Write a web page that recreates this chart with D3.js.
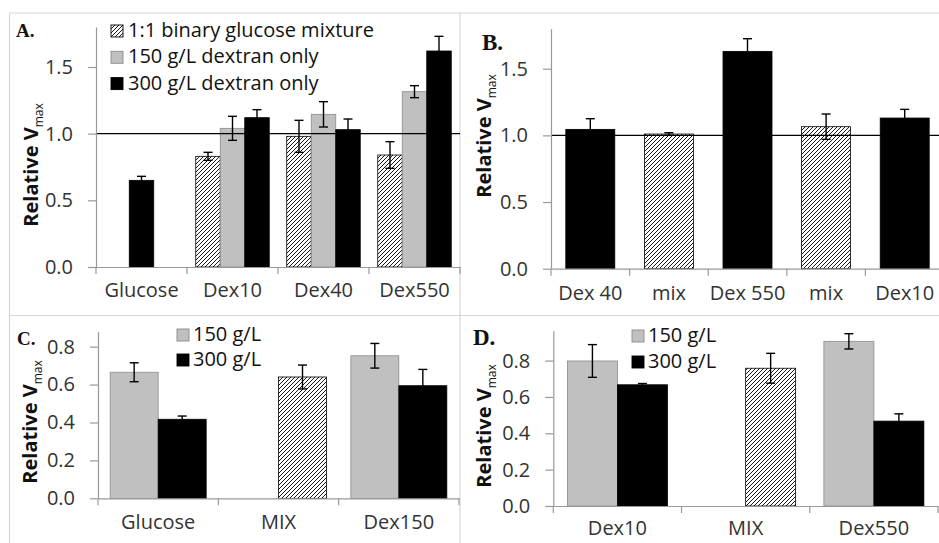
<!DOCTYPE html>
<html>
<head>
<meta charset="utf-8">
<script src="https://cdnjs.cloudflare.com/ajax/libs/d3/7.8.5/d3.min.js"></script>
<style>
  body { margin: 0; background: #fff; }
  svg text { font-family: "Open Sans", sans-serif; }
</style>
</head>
<body>
<svg id="chart" width="939" height="543"></svg>
<script>
"use strict";

// Panel A: relative Vmax by crowder, three conditions
var aCategories = ["Glucose", "Dex10", "Dex40", "Dex550"];
var aMix      = [null, 0.83, 0.98, 0.84];
var aMixErr   = [null, 0.03, 0.12, 0.10];
var a150      = [null, 1.04, 1.145, 1.315];
var a150Err   = [null, 0.09, 0.095, 0.045];
var a300      = [0.65, 1.12, 1.03, 1.62];
var a300Err   = [0.03, 0.06, 0.08, 0.11];
var aLegend   = ["1:1 binary glucose mixture", "150 g/L dextran only", "300 g/L dextran only"];

// Panel B: single series, alternating dextran / mix
var bCategories = ["Dex 40", "mix", "Dex 550", "mix", "Dex10"];
var bValues     = [1.045, 1.01, 1.63, 1.065, 1.13];
var bErr        = [0.08, 0.01, 0.095, 0.095, 0.065];
var bKinds      = ["black", "hatch", "black", "hatch", "black"];

// Panel C
var cCategories = ["Glucose", "MIX", "Dex150"];
var c150        = [0.665, null, 0.752];
var c150Err     = [0.05, null, 0.065];
var c300        = [0.417, 0.64, 0.594];
var c300Err     = [0.017, 0.063, 0.086];
var c300Kinds   = ["black", "hatch", "black"];

// Panel D
var dCategories = ["Dex10", "MIX", "Dex550"];
var d150        = [0.798, null, 0.906];
var d150Err     = [0.09, null, 0.042];
var d300        = [0.667, 0.758, 0.467];
var d300Err     = [0.007, 0.082, 0.04];
var d300Kinds   = ["black", "hatch", "black"];

var legendConc = ["150 g/L", "300 g/L"];

var yTicksA = [0, 0.5, 1.0, 1.5];
var yTicksC = [0, 0.2, 0.4, 0.6, 0.8];

var svg = d3.select("#chart");

// hatch pattern
var defs = svg.append("defs");
defs.append("pattern")
    .attr("id", "hatch")
    .attr("patternUnits", "userSpaceOnUse")
    .attr("width", 4).attr("height", 4)
    .append("path")
    .attr("d", "M-1,1 l2,-2 M0,4 l4,-4 M3,5 l2,-2")
    .attr("stroke", "#000")
    .attr("stroke-width", 0.9);

var fills = { black: "#000", grey: "#c0c0c0", hatch: "url(#hatch)" };
var strokes = { black: "#000", grey: "#8c8c8c", hatch: "#000" };

// panel frames
var frame = svg.append("g").attr("stroke", "#d6d6d6").attr("stroke-width", 1.2);
frame.append("line").attr("x1", 9.5).attr("x2", 939).attr("y1", 13).attr("y2", 13);
frame.append("line").attr("x1", 9.5).attr("x2", 939).attr("y1", 315.5).attr("y2", 315.5);
frame.append("line").attr("x1", 9.5).attr("x2", 9.5).attr("y1", 13).attr("y2", 543);
frame.append("line").attr("x1", 460).attr("x2", 460).attr("y1", 13).attr("y2", 543);

// build bar records for each panel
function seriesBars(values, errs, kinds, slot) {
    var out = [];
    values.forEach(function (v, i) {
        if (v === null) return;
        out.push({ cat: i, value: v, err: errs[i], kind: typeof kinds === "string" ? kinds : kinds[i], slot: slot });
    });
    return out;
}

var panels = [
    {
        label: "A.", labelX: 16, labelY: 37, labelSize: 19,
        x0: 96, x1: 460, y0: 267, yTop: 27, yMax: 1.8, ticks: yTicksA,
        categories: aCategories, slots: 3, slotW: 24.5, centered: true,
        bars: seriesBars(aMix, aMixErr, "hatch", 0)
            .concat(seriesBars(a150, a150Err, "grey", 1))
            .concat(seriesBars(a300, a300Err, "black", 2)),
        refLine: 1.0, titleX: 38, titleY: 165, xLabelDy: 30
    },
    {
        label: "B.", labelX: 482, labelY: 50, labelSize: 23,
        x0: 551, x1: 944, y0: 268.7, yTop: 28.7, yMax: 1.8, ticks: yTicksA,
        categories: bCategories, slots: 1, slotW: 49, centered: false,
        bars: seriesBars(bValues, bErr, bKinds, 0),
        refLine: 1.0, titleX: 491, titleY: 136, xLabelDy: 31
    },
    {
        label: "C.", labelX: 17, labelY: 345, labelSize: 19,
        x0: 98, x1: 459, y0: 498.3, yTop: 331.5, yMax: 0.88, ticks: yTicksC,
        categories: cCategories, slots: 2, slotW: 48, centered: false,
        bars: seriesBars(c150, c150Err, "grey", 0)
            .concat(seriesBars(c300, c300Err, c300Kinds, 1)),
        refLine: null, titleX: 37, titleY: 422, xLabelDy: 31
    },
    {
        label: "D.", labelX: 473, labelY: 345, labelSize: 23,
        x0: 553.3, x1: 938, y0: 506, yTop: 330.8, yMax: 0.964, ticks: yTicksC,
        categories: dCategories, slots: 2, slotW: 50, centered: false,
        bars: seriesBars(d150, d150Err, "grey", 0)
            .concat(seriesBars(d300, d300Err, d300Kinds, 1)),
        refLine: null, titleX: 491, titleY: 426, xLabelDy: 29
    }
];

panels.forEach(drawPanel);

function drawPanel(p) {
    var g = svg.append("g");

    var x = d3.scaleBand()
        .domain(d3.range(p.categories.length))
        .range([p.x0, p.x1])
        .paddingInner(0).paddingOuter(0);

    var y = d3.scaleLinear().domain([0, p.yMax]).range([p.y0, p.yTop]);

    // bar x position
    function barX(d) {
        var center = x(d.cat) + x.bandwidth() / 2;
        if (p.centered) {
            var inCat = p.bars.filter(function (b) { return b.cat === d.cat; });
            var idx = inCat.indexOf(d);
            return center - inCat.length * p.slotW / 2 + idx * p.slotW;
        }
        return center - p.slots * p.slotW / 2 + d.slot * p.slotW;
    }

    // bars
    g.selectAll(".bar")
        .data(p.bars)
        .enter()
        .append("rect")
        .attr("class", "bar")
        .attr("x", barX)
        .attr("y", function (d) { return y(d.value); })
        .attr("width", p.slotW)
        .attr("height", function (d) { return y(0) - y(d.value); })
        .attr("fill", function (d) { return fills[d.kind]; })
        .attr("stroke", function (d) { return strokes[d.kind]; })
        .attr("stroke-width", 0.8);

    // reference line
    if (p.refLine !== null) {
        g.append("line")
            .attr("x1", p.x0).attr("x2", p.x1)
            .attr("y1", y(p.refLine)).attr("y2", y(p.refLine))
            .attr("stroke", "#000").attr("stroke-width", 1.3);
    }

    // error bars
    var eb = g.selectAll(".err")
        .data(p.bars)
        .enter()
        .append("g")
        .attr("class", "err")
        .attr("stroke", "#000")
        .attr("stroke-width", 1.4);
    eb.append("line")
        .attr("x1", function (d) { return barX(d) + p.slotW / 2; })
        .attr("x2", function (d) { return barX(d) + p.slotW / 2; })
        .attr("y1", function (d) { return y(d.value - d.err); })
        .attr("y2", function (d) { return y(d.value + d.err); });
    [1, -1].forEach(function (s) {
        eb.append("line")
            .attr("x1", function (d) { return barX(d) + p.slotW / 2 - 4.5; })
            .attr("x2", function (d) { return barX(d) + p.slotW / 2 + 4.5; })
            .attr("y1", function (d) { return y(d.value + s * d.err); })
            .attr("y2", function (d) { return y(d.value + s * d.err); });
    });

    // y axis
    var yAxis = g.append("g")
        .attr("transform", "translate(" + p.x0 + ",0)")
        .call(d3.axisLeft(y).tickValues(p.ticks).tickFormat(d3.format(".1f"))
            .tickSize(8).tickPadding(15).tickSizeOuter(0));
    yAxis.select(".domain").attr("stroke", "#999").attr("stroke-width", 1.2);
    yAxis.selectAll(".tick line").attr("stroke", "#999").attr("stroke-width", 1.2);
    yAxis.selectAll(".tick text")
        .attr("fill", "#333")
        .style("font-size", "20px")
        .style("font-family", "'Open Sans', sans-serif");

    // x axis (labels only, boundary ticks drawn separately)
    var xAxis = g.append("g")
        .attr("transform", "translate(0," + p.y0 + ")")
        .call(d3.axisBottom(x).tickFormat(function (i) { return p.categories[i]; })
            .tickSize(0).tickPadding(p.xLabelDy - 14).tickSizeOuter(0));
    xAxis.select(".domain").attr("stroke", "#999").attr("stroke-width", 1.2);
    xAxis.selectAll(".tick text")
        .attr("fill", "#333")
        .style("font-size", "20px")
        .style("font-family", "'Open Sans', sans-serif");

    var bounds = d3.range(p.categories.length + 1).map(function (i) {
        return i < p.categories.length ? x(i) : p.x1;
    });
    g.selectAll(".xtick")
        .data(bounds)
        .enter()
        .append("line")
        .attr("x1", function (d) { return d; })
        .attr("x2", function (d) { return d; })
        .attr("y1", p.y0).attr("y2", p.y0 + 7)
        .attr("stroke", "#999").attr("stroke-width", 1.2);

    // y title
    var t = g.append("text")
        .attr("transform", "translate(" + p.titleX + "," + p.titleY + ") rotate(-90)")
        .attr("text-anchor", "middle")
        .attr("fill", "#111")
        .style("font-size", "20px")
        .style("font-weight", "bold");
    t.append("tspan").text("Relative V");
    t.append("tspan").attr("dy", 5).style("font-size", "12px").style("font-weight", "normal").text("max");

    // panel letter
    g.append("text")
        .attr("x", p.labelX).attr("y", p.labelY)
        .style("font-family", "'Liberation Serif', serif")
        .style("font-weight", "bold")
        .style("font-size", p.labelSize + "px")
        .attr("fill", "#111")
        .text(p.label);
}

// legends
function drawLegend(items, kinds, bx, by0, step, tx) {
    var lg = svg.append("g");
    items.forEach(function (name, i) {
        lg.append("rect")
            .attr("x", bx).attr("y", by0 + i * step)
            .attr("width", 12).attr("height", 12)
            .attr("fill", fills[kinds[i]])
            .attr("stroke", strokes[kinds[i]])
            .attr("stroke-width", 0.9);
        lg.append("text")
            .attr("x", tx).attr("y", by0 + i * step + 12)
            .attr("fill", "#111")
            .style("font-size", "20px")
            .text(name);
    });
}

drawLegend(aLegend, ["hatch", "grey", "black"], 111, 25, 26.3, 128);
drawLegend(legendConc, ["grey", "black"], 177, 329, 25, 193);
drawLegend(legendConc, ["grey", "black"], 632, 330, 26, 648);
</script>
</body>
</html>
